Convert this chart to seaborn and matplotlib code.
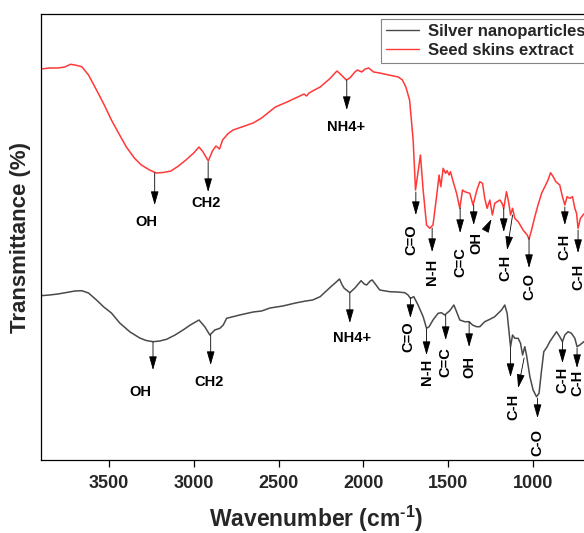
import numpy as np
import pandas as pd
import matplotlib
matplotlib.use("Agg")
import matplotlib.pyplot as plt
import seaborn as sns

# ---------------- data ----------------
red_wn = [3900, 3850, 3800, 3760, 3726, 3700, 3660, 3620, 3573, 3530, 3485, 3440, 3397, 3350,
          3309, 3260, 3221, 3180, 3134, 3090, 3046, 3000, 2969, 2945, 2914, 2890, 2869, 2848,
          2830, 2800, 2768, 2700, 2650, 2600, 2519, 2450, 2387, 2350, 2335, 2320, 2300, 2255,
          2200, 2156, 2130, 2101, 2080, 2050, 2035, 2010, 1990, 1969, 1940, 1904, 1850, 1794,
          1770, 1750, 1728, 1707, 1693, 1664, 1648, 1628, 1609, 1590, 1569, 1554, 1544, 1530,
          1516, 1507, 1495, 1487, 1471, 1451, 1432, 1416, 1403, 1373, 1354, 1330, 1314, 1298,
          1285, 1271, 1255, 1240, 1226, 1212, 1196, 1183, 1173, 1157, 1143, 1133, 1121, 1108,
          1088, 1059, 1035, 1024, 1009, 990, 971, 950, 931, 912, 897, 882, 866, 843, 827, 813,
          800, 784, 768, 754, 744, 735, 721, 701, 680, 660]
red_val = [391, 392, 392, 393, 395.7, 395, 393.3, 385, 370, 356, 340, 326, 313, 302,
           295, 290, 287, 287.5, 289, 294, 300, 307, 313, 308, 299, 309, 314, 311,
           320, 326, 330, 334, 337, 342, 353, 358, 363, 366, 364, 367, 369, 373,
           381, 389, 385, 380, 382, 388, 390, 388, 391, 392, 388, 387, 385, 383,
           380, 373, 360, 320, 270, 305, 270, 235, 231.7, 235, 263.3, 285, 273.3, 291.7,
           286.7, 289.3, 285, 288.3, 278.3, 266.7, 251.7, 270, 268.3, 266.7, 255, 270.7, 278.3, 276.7,
           261.7, 251.7, 260, 245, 256.7, 258.3, 260, 256.7, 251.7, 268.3, 256.7, 245, 251.7, 241.7,
           238.3, 230, 225, 221, 230, 243.3, 255, 266.7, 273.3, 280, 287.3, 283.3, 278.3, 275, 263.3, 255,
           263.3, 261.7, 263.3, 251.7, 246.7, 231.7, 241.7, 246, 248, 245]

gray_wn = [3900, 3850, 3800, 3750, 3700, 3660, 3620, 3573, 3530, 3485, 3436, 3375, 3318, 3280,
           3240, 3200, 3160, 3110, 3063, 3020, 2969, 2935, 2905, 2876, 2846, 2826, 2806, 2729,
           2650, 2600, 2550, 2475, 2400, 2340, 2299, 2255, 2200, 2160, 2141, 2125, 2113, 2080,
           2050, 2014, 1995, 1981, 1960, 1948, 1930, 1904, 1845, 1800, 1756, 1737, 1723, 1703,
           1678, 1648, 1628, 1613, 1590, 1560, 1540, 1521, 1491, 1467, 1451, 1432, 1403, 1377,
           1357, 1334, 1314, 1285, 1255, 1226, 1206, 1186, 1167, 1153, 1141, 1133, 1121, 1108,
           1088, 1074, 1062, 1049, 1039, 1019, 1000, 980, 965, 950, 937, 917, 902, 882, 862,
           843, 827, 813, 794, 774, 754, 741, 725, 701, 680, 660]
gray_val = [164.3, 165, 166, 167.5, 169, 169.3, 167, 160, 153, 147, 137, 128, 122, 119.5,
            118.3, 119, 120.7, 125, 130, 135, 140, 133.3, 125, 130, 131.7, 135, 141.7, 145,
            148, 149, 152, 154, 157, 159, 160, 163.3, 172, 178, 181, 175, 171.7, 167.3,
            172, 179.3, 176, 175, 179, 180, 176, 170, 168.3, 168, 167.3, 165, 161.7, 163.3,
            155, 143.3, 131.7, 133.3, 140, 146.7, 147.3, 145, 149.3, 155, 148.3, 140, 138.3, 138.3,
            135, 133.3, 133.3, 138.3, 140.7, 143.3, 146.7, 150, 155, 146.7, 126.7, 113.3, 125, 121.7,
            121.7, 116.7, 105, 113.3, 105, 83.3, 70, 63.3, 66.7, 90, 108.3, 113.3, 118.3, 123.3, 128.3,
            123.3, 118.3, 125, 128.3, 126.7, 121.7, 113.3, 115, 118.3, 120, 118]

series_names = ["Silver nanoparticles", "Seed skins extract"]
xtick_values = [3500, 3000, 2500, 2000, 1500, 1000]

# annotations: label, arrow x, arrow start y, arrow tip y, label x, label y, rotation
red_notes = [("OH", 3230, 287, 255, 3277, 238, 0),
             ("CH2", 2915, 298, 268, 2925, 257, 0),
             ("NH4+", 2098, 380, 350, 2101, 333, 0),
             ("C=O", 1691, 268, 245, 1717, 220, 90),
             ("N-H", 1595, 232, 208, 1595, 188, 90),
             ("C=C", 1430, 252, 227, 1430, 198, 90),
             ("OH", 1350, 255, 235, 1334, 217, 90),
             ("C-H", 1173, 252, 228, 1161, 192, 90),
             ("C-O", 1024, 222, 192, 1024, 173, 90),
             ("C-H", 813, 253, 235, 813, 213, 90),
             ("C-H", 735, 230, 207, 735, 183, 90)]
gray_notes = [("OH", 3240, 118, 90, 3312, 68, 0),
              ("CH2", 2900, 125, 95, 2907, 78, 0),
              ("NH4+", 2080, 167, 137, 2068, 122, 0),
              ("C=O", 1723, 162, 142, 1737, 123, 90),
              ("N-H", 1628, 131, 105, 1628, 88, 90),
              ("C=C", 1515, 145, 120, 1515, 98, 90),
              ("OH", 1377, 138, 113, 1377, 93, 90),
              ("C-H", 1133, 113, 83, 1114, 53, 90),
              ("C-O", 974, 62, 42, 974, 17, 90),
              ("C-H", 827, 118, 97, 827, 80, 90),
              ("C-H", 741, 112, 92, 741, 77, 90)]
# extra slanted arrows: start (x, y) -> tip (x, y)
slanted = [((1279, 230), (1245, 241)),
           ((1121, 245), (1153, 210)),
           ((1053, 102), (1088, 72))]

# ---------------- plot ----------------
sns.set_style("ticks")
plt.rcParams["font.family"] = ["Liberation Sans", "DejaVu Sans"]
plt.rcParams["font.weight"] = "bold"
plt.rcParams["axes.labelweight"] = "bold"
plt.rcParams["mathtext.fontset"] = "custom"
plt.rcParams["mathtext.rm"] = "Liberation Sans:bold"
plt.rcParams["mathtext.bf"] = "Liberation Sans:bold"
plt.rcParams["mathtext.default"] = "rm"

df = pd.concat([
    pd.DataFrame({"wn": gray_wn, "T": gray_val, "Sample": series_names[0]}),
    pd.DataFrame({"wn": red_wn, "T": red_val, "Sample": series_names[1]}),
])

ax_w_px = 549.8
fig = plt.figure(figsize=(5.84, 5.33), dpi=100)
ax = fig.add_axes([41 / 584, (533 - 460) / 533, ax_w_px / 584, 445.7 / 533])

palette = {series_names[0]: "#4a4a4a", series_names[1]: "#ff3838"}
sns.lineplot(data=df, x="wn", y="T", hue="Sample", hue_order=series_names,
             palette=palette, estimator=None, sort=False, linewidth=1.1, ax=ax)

ax.set_xlim(3900, 660)
ax.set_ylim(0, 445.7)
ax.set_xticks(xtick_values)
ax.set_xticklabels([str(v) for v in xtick_values], fontsize=13, fontweight="bold")
ax.set_yticks([])
ax.tick_params(axis="x", length=5, width=0.9, pad=6, color="black")
for s in ax.spines.values():
    s.set_linewidth(0.9)
    s.set_color("black")

ax.set_xlabel("Wavenumber (cm$^{\\text{-1}}$)", fontsize=16.5, fontweight="bold", labelpad=8)
ax.set_ylabel("Transmittance (%)", fontsize=16, fontweight="bold", labelpad=7)

arrow_kw = dict(arrowstyle="-|>,head_length=0.7,head_width=0.2", color="black",
                lw=0.6, shrinkA=0, shrinkB=0, mutation_scale=12)
for notes in (red_notes, gray_notes):
    for lab, x, y0, y1, lx, ly, rot in notes:
        ax.annotate("", xy=(x, y1), xytext=(x, y0), arrowprops=arrow_kw)
        ax.text(lx, ly, lab, rotation=rot, ha="center", va="center",
                fontsize=10.5, fontweight="bold", color="black")
for (sx, sy), (tx, ty) in slanted:
    ax.annotate("", xy=(tx, ty), xytext=(sx, sy), arrowprops=arrow_kw)

leg = ax.legend(loc="upper left", bbox_to_anchor=(340 / ax_w_px, (460 - 19) / 445.7),
                borderaxespad=0, frameon=True, fancybox=False, edgecolor="#666666",
                prop={"size": 12, "weight": "bold"}, handlelength=2.0,
                handletextpad=0.5, borderpad=0.3, labelspacing=0.25)
leg.get_frame().set_linewidth(0.8)
for line in leg.get_lines():
    line.set_linewidth(1.0)

fig.savefig("out.png", dpi=100)
